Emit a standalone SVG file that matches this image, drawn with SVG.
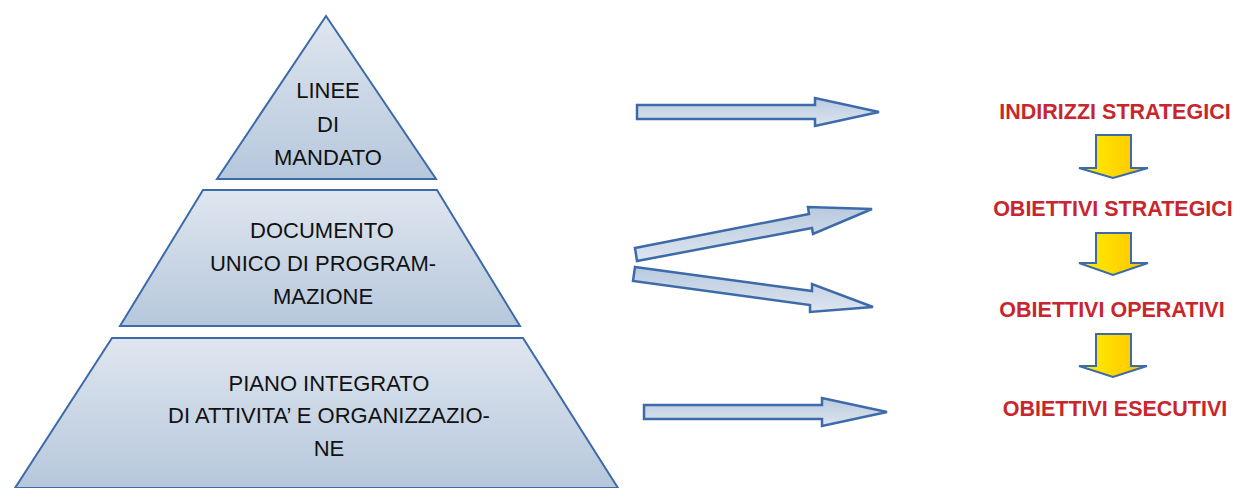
<svg xmlns="http://www.w3.org/2000/svg" width="1238" height="488" viewBox="0 0 1238 488">
<defs>
<linearGradient id="gPyr" x1="0" y1="0" x2="0" y2="1">
<stop offset="0" stop-color="#dfe6ef"/>
<stop offset="1" stop-color="#b6c7dc"/>
</linearGradient>
<linearGradient id="gArr" x1="0" y1="0" x2="0" y2="1">
<stop offset="0" stop-color="#b9cadf"/>
<stop offset="1" stop-color="#dde5ef"/>
</linearGradient>
<linearGradient id="gYel" x1="0" y1="0" x2="1" y2="0">
<stop offset="0" stop-color="#fff200"/>
<stop offset="1" stop-color="#ffc000"/>
</linearGradient>
<style>
.pyr{fill:url(#gPyr);stroke:#3d6aa8;stroke-width:2;stroke-linejoin:miter}
.arr{fill:url(#gArr);stroke:#3d6aa8;stroke-width:2.5;stroke-linejoin:miter}
.yel{fill:url(#gYel);stroke:#3d6aa8;stroke-width:2;stroke-linejoin:miter}
.t{font-family:"Liberation Sans",Arial,sans-serif;font-size:22px;fill:#111;text-anchor:middle}
.r{font-family:"Liberation Sans",Arial,sans-serif;font-size:21.5px;font-weight:bold;fill:#c8262c;text-anchor:middle}
</style>
</defs>
<g id="linee-di-mandato">
<polygon class="pyr" points="326,16 436,179 217,179"/>
<text class="t" x="328" y="98">LINEE</text>
<text class="t" x="328" y="132">DI</text>
<text class="t" x="328" y="165">MANDATO</text>
</g>
<g id="dup">
<polygon class="pyr" points="203,190 437,190 520,326 120,326"/>
<text class="t" x="322" y="238">DOCUMENTO</text>
<text class="t" x="323" y="271">UNICO DI PROGRAM-</text>
<text class="t" x="323" y="304">MAZIONE</text>
</g>
<g id="piao">
<polygon class="pyr" points="112,338 523,338 618,488 15,488"/>
<text class="t" x="329" y="391">PIANO INTEGRATO</text>
<text class="t" x="329" y="423">DI ATTIVITA’ E ORGANIZZAZIO-</text>
<text class="t" x="329" y="456">NE</text>
</g>
<g id="indirizzi-strategici"><text class="r" x="1115" y="119">INDIRIZZI STRATEGICI</text></g>
<g id="obiettivi-strategici"><text class="r" x="1113" y="216">OBIETTIVI STRATEGICI</text></g>
<g id="obiettivi-operativi"><text class="r" x="1112" y="317">OBIETTIVI OPERATIVI</text></g>
<g id="obiettivi-esecutivi"><text class="r" x="1115" y="416">OBIETTIVI ESECUTIVI</text></g>
<g id="connectors">
<polygon class="arr" points="637,105 815,105 815,98 879,112 815,126 815,119 637,119"/>
<polygon class="arr" points="635,248 809,214 808,207 872,209 813,234 812,228 637,261"/>
<polygon class="arr" points="635,267 812,291 812,284 873,307 810,312 810,305 633,281"/>
<polygon class="arr" points="644,405 822,405 822,398 887,412 822,426 822,419 644,419"/>
<polygon class="yel" points="1096,135 1131,135 1131,168 1148,168 1113,178 1079,168 1096,168"/>
<polygon class="yel" points="1096,233 1131,233 1131,263 1148,263 1113,275 1079,263 1096,263"/>
<polygon class="yel" points="1096,334 1131,334 1131,366 1147,366 1113,377 1079,366 1096,366"/>
</g>
</svg>
